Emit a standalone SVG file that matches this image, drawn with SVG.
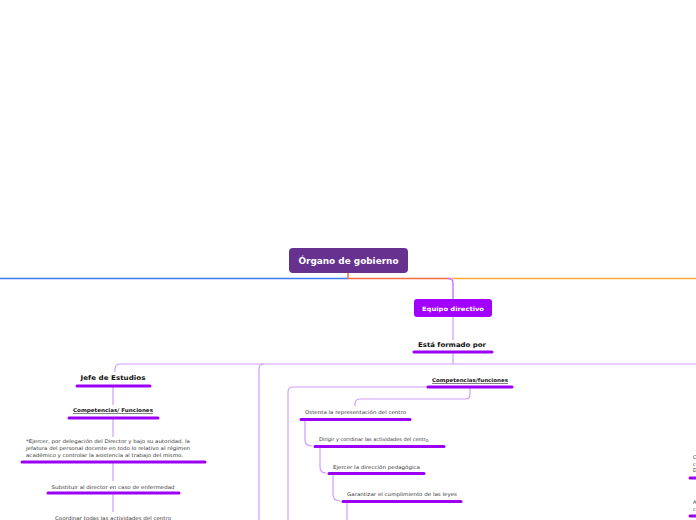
<svg xmlns="http://www.w3.org/2000/svg" width="696" height="520" viewBox="0 0 696 520">
<style>
.c{fill:none;stroke:#d29bff;stroke-width:1.2}
.bar{stroke:#9b00f5;stroke-width:3;stroke-linecap:round}
.t{font-family:"DejaVu Sans",Verdana,sans-serif;font-size:5px;fill:#333}
.b{font-family:"DejaVu Sans",Verdana,sans-serif;font-weight:bold;fill:#111}
.w{font-family:"DejaVu Sans",Verdana,sans-serif;font-weight:bold;fill:#fff}
</style>
<rect width="696" height="520" fill="#fff"/>
<g id="connectors">
<path d="M0 278.5H348" stroke="#3d7cf2" stroke-width="1.5" fill="none"/>
<path d="M452 278.5H696" stroke="#f9a93b" stroke-width="1.5" fill="none"/>
<path d="M348 273V278.5H451" stroke="#f26d3d" stroke-width="1.5" fill="none"/>
<path d="M448 278.5Q453 278.5 453 283V299" stroke="#c77dff" stroke-width="1.5" fill="none"/>
<path class="c" d="M453 317V340"/>
<path class="c" d="M453 353V364"/>
<path class="c" d="M696 364H120Q115 364 115 369V372"/>
<path class="c" d="M264 364Q259 364 259 369V520"/>
<path class="c" d="M470 388V395Q470 399 465 399H360Q355 399 355 404V406"/>
<path class="c" d="M430 387H293Q288 387 288 392V520"/>
<path class="c" d="M305 420V440Q305 446 312 446"/>
<path class="c" d="M320 447V467Q320 473 326 473"/>
<path class="c" d="M333 474V494Q333 501 340 501"/>
<path class="c" d="M347 502V520"/>
<path class="c" d="M113 387V405"/>
<path class="c" d="M113 419V437"/>
<path class="c" d="M113 463V481"/>
<path class="c" d="M113 494V512"/>
</g>
<g id="organo">
<rect x="289" y="248" width="119" height="25" rx="4" fill="#66318f"/>
<text class="w" x="348.5" y="264" font-size="8.5" text-anchor="middle" textLength="100" lengthAdjust="spacingAndGlyphs">Órgano de gobierno</text>
</g>
<g id="equipo">
<rect x="414" y="299" width="78" height="18" rx="3" fill="#a100ff"/>
<text class="w" x="453" y="310.5" font-size="6" text-anchor="middle" textLength="62" lengthAdjust="spacingAndGlyphs">Equipo directivo</text>
</g>
<g id="formado">
<text class="b" x="452" y="347" font-size="6.5" text-anchor="middle" textLength="68" lengthAdjust="spacingAndGlyphs">Está formado por</text>
<line class="bar" x1="414" y1="352" x2="492" y2="352"/>
</g>
<g id="jefe">
<text class="b" x="113" y="380" font-size="6.5" text-anchor="middle" textLength="65" lengthAdjust="spacingAndGlyphs">Jefe de Estudios</text>
<line class="bar" x1="77" y1="386" x2="150" y2="386"/>
</g>
<g id="jefe-comp">
<text class="b" x="113" y="412" font-size="5.2" text-anchor="middle" text-decoration="underline" textLength="80" lengthAdjust="spacingAndGlyphs">Competencias/ Funciones</text>
<line class="bar" x1="69" y1="418" x2="158" y2="418"/>
</g>
<g id="jefe-ejercer">
<text class="t" x="26" y="443" textLength="164" lengthAdjust="spacingAndGlyphs">*Ejercer, por delegación del Director y bajo su autoridad, la</text>
<text class="t" x="26" y="450" textLength="164" lengthAdjust="spacingAndGlyphs">jefatura del personal docente en todo lo relativo al régimen</text>
<text class="t" x="26" y="457" textLength="157" lengthAdjust="spacingAndGlyphs">académico y controlar la asistencia al trabajo del mismo.</text>
<line class="bar" x1="22" y1="462" x2="205" y2="462"/>
</g>
<g id="jefe-substituir">
<text class="t" x="113" y="488.5" text-anchor="middle" textLength="123" lengthAdjust="spacingAndGlyphs">Substituir al director en caso de enfermedad</text>
<line class="bar" x1="48" y1="493" x2="179" y2="493"/>
</g>
<g id="jefe-coordinar">
<text class="t" x="113" y="519.5" text-anchor="middle" textLength="116" lengthAdjust="spacingAndGlyphs">Coordinar todas las actividades del centro</text>
</g>
<g id="comp-funciones">
<text class="b" x="470" y="382" font-size="5.2" text-anchor="middle" text-decoration="underline" textLength="76" lengthAdjust="spacingAndGlyphs">Competencias/funciones</text>
<line class="bar" x1="428" y1="387" x2="512" y2="387"/>
</g>
<g id="ostenta">
<text class="t" x="305" y="413.5" textLength="101" lengthAdjust="spacingAndGlyphs">Ostenta la representación del centro</text>
<line class="bar" x1="301" y1="419.5" x2="410" y2="419.5"/>
</g>
<g id="dirigir">
<text class="t" x="319" y="440.5">Dirigir y corrdinar las actividades del centr<tspan dy="1.5">o</tspan></text>
<line class="bar" x1="315" y1="446.5" x2="444" y2="446.5"/>
</g>
<g id="ejercer">
<text class="t" x="333" y="468.5" textLength="87" lengthAdjust="spacingAndGlyphs">Ejercer la dirección pedagógica</text>
<line class="bar" x1="329" y1="473.5" x2="424" y2="473.5"/>
</g>
<g id="garantizar">
<text class="t" x="347" y="495.5" textLength="110" lengthAdjust="spacingAndGlyphs">Garantizar el cumplimiento de las leyes</text>
<line class="bar" x1="343" y1="501.5" x2="461" y2="501.5"/>
</g>
<g id="right-1">
<text class="t" x="693" y="459">C</text>
<text class="t" x="693" y="466">c</text>
<text class="t" x="693" y="472">D</text>
<line class="bar" x1="690" y1="478" x2="698" y2="478"/>
</g>
<g id="right-2">
<text class="t" x="693" y="504">A</text>
<text class="t" x="693" y="511">c</text>
<line class="bar" x1="690" y1="516" x2="698" y2="516"/>
</g>
</svg>
